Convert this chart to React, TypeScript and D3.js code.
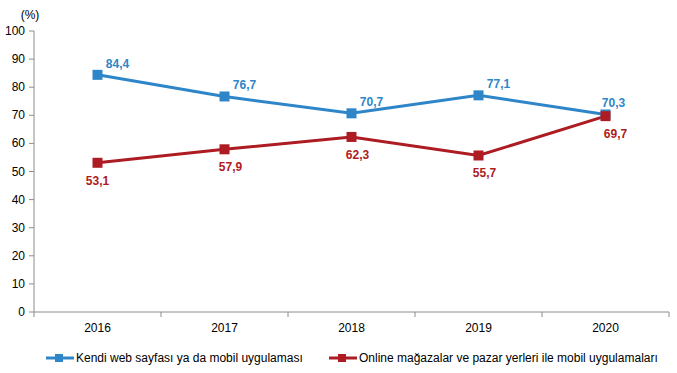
import React from "react";
import * as d3 from "d3";

const years = ["2016", "2017", "2018", "2019", "2020"];
const ownSite = [84.4, 76.7, 70.7, 77.1, 70.3];
const marketplaces = [53.1, 57.9, 62.3, 55.7, 69.7];
const yTicks = [0, 10, 20, 30, 40, 50, 60, 70, 80, 90, 100];
const seriesNames = [
  "Kendi web sayfası ya da mobil uygulaması",
  "Online mağazalar ve pazar yerleri ile mobil uygulamaları",
];

const BLUE = "#2e86c9";
const RED = "#ad1c22";
const AXIS = "#8c8c8c";
const FONT = "Liberation Sans, Arial, sans-serif";

const fmt = (v: number) => v.toFixed(1).replace(".", ",");

const App = () => {
  const width = 677;
  const height = 373;
  const left = 34;
  const right = 669;
  const top = 31;
  const bottom = 312;

  const x = d3.scaleBand().domain(years).range([left, right]);
  const y = d3.scaleLinear().domain([0, 100]).range([bottom, top]);
  const cx = (d: string) => (x(d) as number) + x.bandwidth() / 2;

  const line = d3
    .line<number>()
    .x((_, i) => cx(years[i]))
    .y((d) => y(d));

  const series = [
    { name: seriesNames[0], values: ownSite, color: BLUE },
    { name: seriesNames[1], values: marketplaces, color: RED },
  ];

  return (
    <svg
      width={width}
      height={height}
      style={{ position: "absolute", left: 0, top: 0, background: "#fff" }}
      fontFamily={FONT}
    >
      <text x={30} y={19} fontSize={12} textAnchor="middle" fill="#000">
        (%)
      </text>

      {/* y axis */}
      <line x1={left} x2={left} y1={top} y2={bottom} stroke={AXIS} />
      {yTicks.map((t) => (
        <g key={t}>
          <line x1={left - 5} x2={left} y1={y(t)} y2={y(t)} stroke={AXIS} />
          <text x={25} y={y(t) + 4} fontSize={12} textAnchor="end" fill="#000">
            {t}
          </text>
        </g>
      ))}

      {/* x axis */}
      <line x1={left} x2={right} y1={bottom} y2={bottom} stroke={AXIS} />
      {[...years.map((d) => x(d) as number), right].map((p, i) => (
        <line key={i} x1={p} x2={p} y1={bottom} y2={bottom + 5} stroke={AXIS} />
      ))}
      {years.map((d) => (
        <text key={d} x={cx(d)} y={bottom + 20} fontSize={12} textAnchor="middle" fill="#000">
          {d}
        </text>
      ))}

      {/* lines */}
      {series.map((s) => (
        <path key={s.name} d={line(s.values) || ""} fill="none" stroke={s.color} strokeWidth={3} />
      ))}
      {series.map((s) =>
        s.values.map((v, i) => (
          <rect
            key={s.name + i}
            x={cx(years[i]) - 5}
            y={y(v) - 5}
            width={10}
            height={10}
            fill={s.color}
          />
        ))
      )}

      {/* labels */}
      {ownSite.map((v, i) => (
        <text
          key={"b" + i}
          x={cx(years[i]) + (i === years.length - 1 ? 8 : 20)}
          y={y(v) - 7}
          fontSize={12}
          fontWeight="bold"
          textAnchor="middle"
          fill={BLUE}
        >
          {fmt(v)}
        </text>
      ))}
      {marketplaces.map((v, i) => (
        <text
          key={"r" + i}
          x={cx(years[i]) + (i === 0 ? 0 : i === years.length - 1 ? 10 : 6)}
          y={y(v) + 22}
          fontSize={12}
          fontWeight="bold"
          textAnchor="middle"
          fill={RED}
        >
          {fmt(v)}
        </text>
      ))}

      {/* legend */}
      {series.map((s, i) => {
        const lx = i === 0 ? 46 : 329;
        return (
          <g key={s.name}>
            <line x1={lx} x2={lx + 28} y1={358} y2={358} stroke={s.color} strokeWidth={3} />
            <rect x={lx + 9} y={354} width={8} height={8} fill={s.color} />
            <text x={lx + 30} y={362} fontSize={12} fill="#000">
              {s.name}
            </text>
          </g>
        );
      })}
    </svg>
  );
};

export default App;
